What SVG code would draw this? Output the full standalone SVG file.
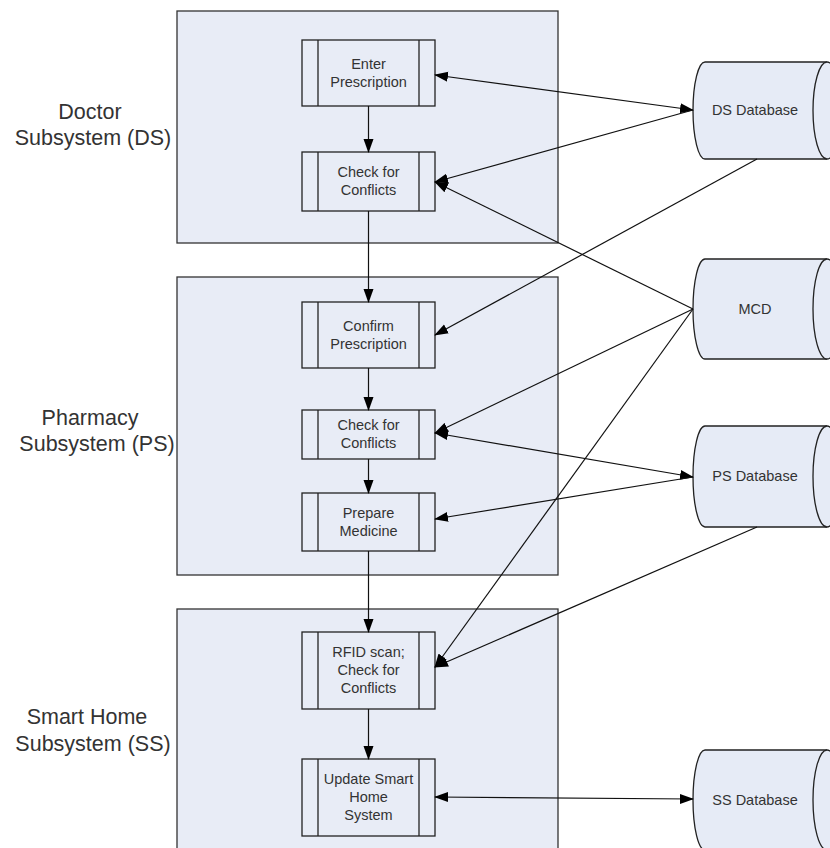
<svg xmlns="http://www.w3.org/2000/svg" width="830" height="848" viewBox="0 0 830 848">
<defs>
<style>
.cont{fill:#e8ecf6;stroke:#333;stroke-width:1.3}
.proc{fill:#e8ecf6;stroke:#222;stroke-width:1.3}
.db{fill:#e6ebf6;stroke:#222;stroke-width:1.3}
.lbl{font-family:"Liberation Sans",Arial,sans-serif;font-size:21.5px;fill:#333;text-anchor:middle}
.t{font-family:"Liberation Sans",Arial,sans-serif;font-size:14.5px;fill:#333;text-anchor:middle}
.c line,.c path{stroke:#111;stroke-width:1.2;fill:none}
</style>
<marker id="ah" markerUnits="userSpaceOnUse" markerWidth="14" markerHeight="11" refX="13" refY="5" orient="auto-start-reverse" viewBox="0 0 14 10">
<path d="M0,0 L14,5 L0,10 z" fill="#000"/>
</marker>
</defs>
<rect width="830" height="848" fill="#fff"/>

<g id="containers">
<rect class="cont" x="177" y="11" width="381" height="232"/>
<rect class="cont" x="177" y="277" width="381" height="298"/>
<rect class="cont" x="177" y="609" width="381" height="250"/>
</g>

<g id="labels">
<text class="lbl" x="90" y="119">Doctor</text>
<text class="lbl" x="93" y="145">Subsystem (DS)</text>
<text class="lbl" x="90" y="425">Pharmacy</text>
<text class="lbl" x="97" y="451">Subsystem (PS)</text>
<text class="lbl" x="87" y="724">Smart Home</text>
<text class="lbl" x="93" y="751">Subsystem (SS)</text>
</g>

<g id="n-enter">
<rect class="proc" x="302" y="40" width="133" height="66"/>
<line class="proc" x1="318" y1="40" x2="318" y2="106"/><line class="proc" x1="419" y1="40" x2="419" y2="106"/>
<text class="t" x="368.5" y="69">Enter</text><text class="t" x="368.5" y="87">Prescription</text>
</g>
<g id="n-check-ds">
<rect class="proc" x="302" y="152" width="133" height="59"/>
<line class="proc" x1="318" y1="152" x2="318" y2="211"/><line class="proc" x1="419" y1="152" x2="419" y2="211"/>
<text class="t" x="368.5" y="177">Check for</text><text class="t" x="368.5" y="195">Conflicts</text>
</g>
<g id="n-confirm">
<rect class="proc" x="302" y="302" width="133" height="66"/>
<line class="proc" x1="318" y1="302" x2="318" y2="368"/><line class="proc" x1="419" y1="302" x2="419" y2="368"/>
<text class="t" x="368.5" y="331">Confirm</text><text class="t" x="368.5" y="349">Prescription</text>
</g>
<g id="n-check-ps">
<rect class="proc" x="302" y="410" width="133" height="49"/>
<line class="proc" x1="318" y1="410" x2="318" y2="459"/><line class="proc" x1="419" y1="410" x2="419" y2="459"/>
<text class="t" x="368.5" y="430">Check for</text><text class="t" x="368.5" y="448">Conflicts</text>
</g>
<g id="n-prepare">
<rect class="proc" x="302" y="493" width="133" height="58"/>
<line class="proc" x1="318" y1="493" x2="318" y2="551"/><line class="proc" x1="419" y1="493" x2="419" y2="551"/>
<text class="t" x="368.5" y="518">Prepare</text><text class="t" x="368.5" y="536">Medicine</text>
</g>
<g id="n-rfid">
<rect class="proc" x="302" y="632" width="133" height="77"/>
<line class="proc" x1="318" y1="632" x2="318" y2="709"/><line class="proc" x1="419" y1="632" x2="419" y2="709"/>
<text class="t" x="368.5" y="657">RFID scan;</text><text class="t" x="368.5" y="675">Check for</text><text class="t" x="368.5" y="693">Conflicts</text>
</g>
<g id="n-update">
<rect class="proc" x="302" y="759" width="133" height="77"/>
<line class="proc" x1="318" y1="759" x2="318" y2="836"/><line class="proc" x1="419" y1="759" x2="419" y2="836"/>
<text class="t" x="368.5" y="784">Update Smart</text><text class="t" x="368.5" y="802">Home</text><text class="t" x="368.5" y="820">System</text>
</g>

<g id="db-ds">
<path class="db" d="M705,62 L827,62 A14,48.5 0 0 1 827,159 L705,159 A12,48.5 0 0 1 705,62 Z"/>
<path class="db" d="M827,62 A14,48.5 0 0 0 827,159"/>
<text class="t" x="755" y="115">DS Database</text>
</g>
<g id="db-mcd">
<path class="db" d="M705,259 L827,259 A14,50 0 0 1 827,359 L705,359 A12,50 0 0 1 705,259 Z"/>
<path class="db" d="M827,259 A14,50 0 0 0 827,359"/>
<text class="t" x="755" y="314">MCD</text>
</g>
<g id="db-ps">
<path class="db" d="M705,426 L827,426 A14,50.5 0 0 1 827,527 L705,527 A12,50.5 0 0 1 705,426 Z"/>
<path class="db" d="M827,426 A14,50.5 0 0 0 827,527"/>
<text class="t" x="755" y="481">PS Database</text>
</g>
<g id="db-ss">
<path class="db" d="M705,750 L827,750 A14,50 0 0 1 827,850 L705,850 A12,50 0 0 1 705,750 Z"/>
<path class="db" d="M827,750 A14,50 0 0 0 827,850"/>
<text class="t" x="755" y="805">SS Database</text>
</g>

<g id="connectors" class="c">
<line x1="368.5" y1="106" x2="368.5" y2="152" marker-end="url(#ah)"/>
<line x1="368.5" y1="211" x2="368.5" y2="302" marker-end="url(#ah)"/>
<line x1="368.5" y1="368" x2="368.5" y2="410" marker-end="url(#ah)"/>
<line x1="368.5" y1="459" x2="368.5" y2="493" marker-end="url(#ah)"/>
<line x1="368.5" y1="551" x2="368.5" y2="632" marker-end="url(#ah)"/>
<line x1="368.5" y1="709" x2="368.5" y2="759" marker-end="url(#ah)"/>
<line x1="693" y1="110" x2="435" y2="75" marker-start="url(#ah)" marker-end="url(#ah)"/>
<line x1="693" y1="110" x2="435" y2="182" marker-end="url(#ah)"/>
<line x1="757" y1="159" x2="435" y2="335" marker-end="url(#ah)"/>
<line x1="693" y1="309" x2="435" y2="182" marker-end="url(#ah)"/>
<line x1="693" y1="309" x2="435" y2="433" marker-end="url(#ah)"/>
<line x1="693" y1="309" x2="435" y2="667" marker-end="url(#ah)"/>
<line x1="693" y1="477" x2="435" y2="433" marker-start="url(#ah)" marker-end="url(#ah)"/>
<line x1="693" y1="477" x2="435" y2="519" marker-end="url(#ah)"/>
<line x1="757" y1="527" x2="435" y2="667" marker-end="url(#ah)"/>
<line x1="693" y1="799" x2="435" y2="797" marker-start="url(#ah)" marker-end="url(#ah)"/>
</g>
</svg>
